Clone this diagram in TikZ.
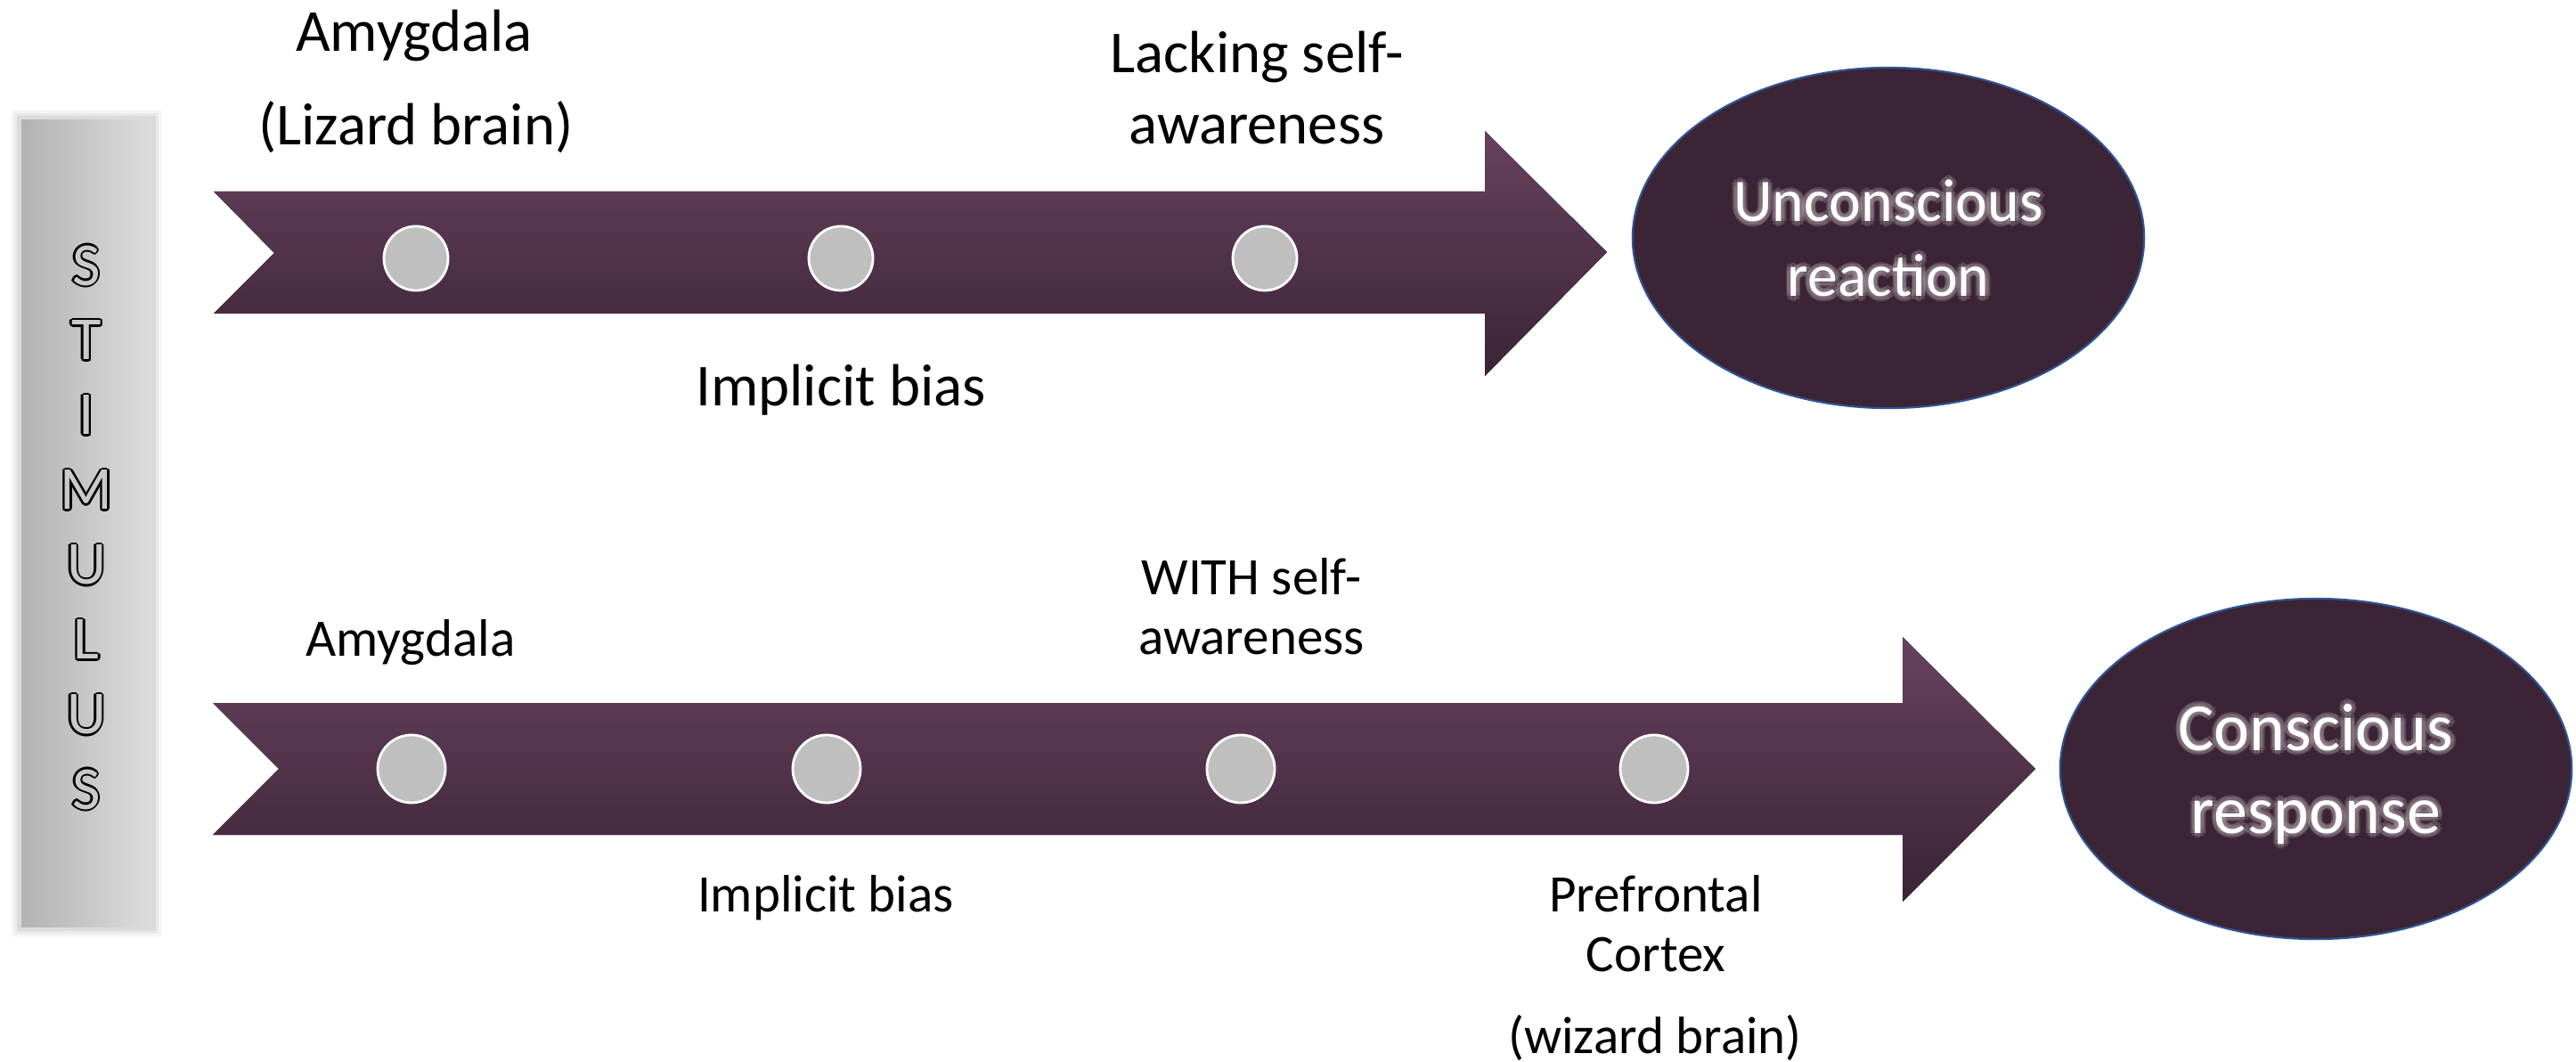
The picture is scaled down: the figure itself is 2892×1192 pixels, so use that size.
\documentclass[tikz,border=0pt]{standalone}
\usepackage{fontspec}
\setmainfont{Carlito}
\usetikzlibrary{shapes.geometric}
\definecolor{arrtop}{HTML}{67425E}
\definecolor{arrbot}{HTML}{3B2335}
\definecolor{ellin}{HTML}{3B2435}
\definecolor{ellout}{HTML}{5A3A53}
\definecolor{ellborder}{HTML}{2F5597}
\definecolor{dotfill}{HTML}{BFBFBF}
\definecolor{stimL}{HTML}{B2B2B2}
\definecolor{stimR}{HTML}{DDDDDD}
\definecolor{stimin}{HTML}{CACACA}
\definecolor{glowc}{HTML}{A99DA6}
\pgfdeclareradialshading{ellshade}{\pgfpoint{0bp}{0bp}}{color(0bp)=(ellin); color(26bp)=(ellin); color(50bp)=(ellout)}
\tikzset{
  lbltop/.style={font=\fontsize{19}{23}\selectfont, inner sep=0pt, anchor=base},
  lblbot/.style={font=\fontsize{16.8}{20}\selectfont, inner sep=0pt, anchor=base},
  dotst/.style={circle, fill=dotfill, draw=white, line width=0.8pt, inner sep=0pt},
  ellst/.style={ellipse, draw=ellborder, line width=0.6pt, shading=ellshade, inner sep=0pt,
                minimum width=5.74cm, minimum height=3.82cm},
  arrowshape/.style={top color=arrtop, bottom color=arrbot, draw=none},
  stimst/.style={font=\fontsize{19.5}{23}\selectfont, inner sep=0pt, anchor=center},
  glowst/.style={inner sep=0pt, anchor=base, text=glowc, opacity=0.28},
  whitest/.style={inner sep=0pt, anchor=base, text=white}
}
\newcommand\outlinedletter[3]{%
  \foreach \ang in {0,45,...,315} {\node[stimst, text=black, shift={(\ang:0.7pt)}] at (#2) {#3};}
  \node[stimst, text=stimin] (#1) at (#2) {#3};}
\newcommand\glowline[4]{% name, pos, font, text
  \foreach \ang in {0,45,...,315} {\node[glowst, font=#3, shift={(\ang:1.5pt)}] at (#2) {#4};}
  \node[whitest, font=#3] (#1) at (#2) {#4};}
\begin{document}
\begin{tikzpicture}[x=0.01cm, y=-0.01cm]
\useasboundingbox (0,0) rectangle (2892,1192);
\fill[white] (0,0) rectangle (2892,1192);

% STIMULUS bar (soft edges)
\foreach \i/\o in {9/0.10, 6/0.14, 3/0.20} {
  \fill[gray!70, opacity=\o] (22-\i,133-\i) rectangle (172+\i,1042+\i);
}
\shade[left color=stimL, right color=stimR] (24,135) rectangle (170,1040);
\outlinedletter{s1}{97,298}{S}
\outlinedletter{s2}{97,382}{T}
\outlinedletter{s3}{97,466}{I}
\outlinedletter{s4}{97,550}{M}
\outlinedletter{s5}{97,634}{U}
\outlinedletter{s6}{97,718}{L}
\outlinedletter{s7}{97,802}{U}
\outlinedletter{s8}{97,886}{S}

% top block arrow
\coordinate (a1tail) at (240,215);
\coordinate (a1tip) at (1804,283);
\fill[arrowshape] (a1tail) -- (1667,215) -- (1667,147) -- (a1tip) -- (1667,422) -- (1667,352)
   -- (240,352) -- (308,284) -- cycle;
% bottom block arrow
\coordinate (a2tail) at (239,789);
\coordinate (a2tip) at (2285,863);
\fill[arrowshape] (a2tail) -- (2136,789) -- (2136,715) -- (a2tip) -- (2136,1012) -- (2136,937)
   -- (239,937) -- (313,863) -- cycle;

% dots
\node[dotst, minimum size=0.72cm] (d11) at (467,290) {};
\node[dotst, minimum size=0.72cm] (d12) at (944,290) {};
\node[dotst, minimum size=0.72cm] (d13) at (1420,290) {};
\node[dotst, minimum size=0.76cm] (d21) at (462,863) {};
\node[dotst, minimum size=0.76cm] (d22) at (928,863) {};
\node[dotst, minimum size=0.76cm] (d23) at (1393,863) {};
\node[dotst, minimum size=0.76cm] (d24) at (1857,863) {};

% ellipses
\node[ellst] (e1) at (2120,267) {};
\node[ellst] (e2) at (2600,863) {};
\glowline{e1a}{2120,249}{\fontsize{19.3}{23}\selectfont}{Unconscious}
\glowline{e1b}{2120,333}{\fontsize{19.3}{23}\selectfont}{reaction}
\glowline{e2a}{2600,842}{\fontsize{21.6}{26}\selectfont}{Conscious}
\glowline{e2b}{2600,935}{\fontsize{21.6}{26}\selectfont}{response}

% top labels
\node[lbltop] (t1) at (465,58) {Amygdala};
\node[lbltop] (t2) at (467,163) {(Lizard brain)};
\node[lbltop] (t3) at (1411,82) {Lacking self-};
\node[lbltop] (t4) at (1411,162) {awareness};
\node[lbltop] (t5) at (944,456) {Implicit bias};

% bottom labels
\node[lblbot] (b1) at (461,737) {Amygdala};
\node[lblbot] (b2) at (1405,668) {WITH self-};
\node[lblbot] (b3) at (1405,735) {awareness};
\node[lblbot] (b4) at (927,1023) {Implicit bias};
\node[lblbot] (b5) at (1859,1023) {Prefrontal};
\node[lblbot] (b6) at (1859,1090) {Cortex};
\node[lblbot] (b7) at (1858,1182) {(wizard brain)};
\end{tikzpicture}
\end{document}
